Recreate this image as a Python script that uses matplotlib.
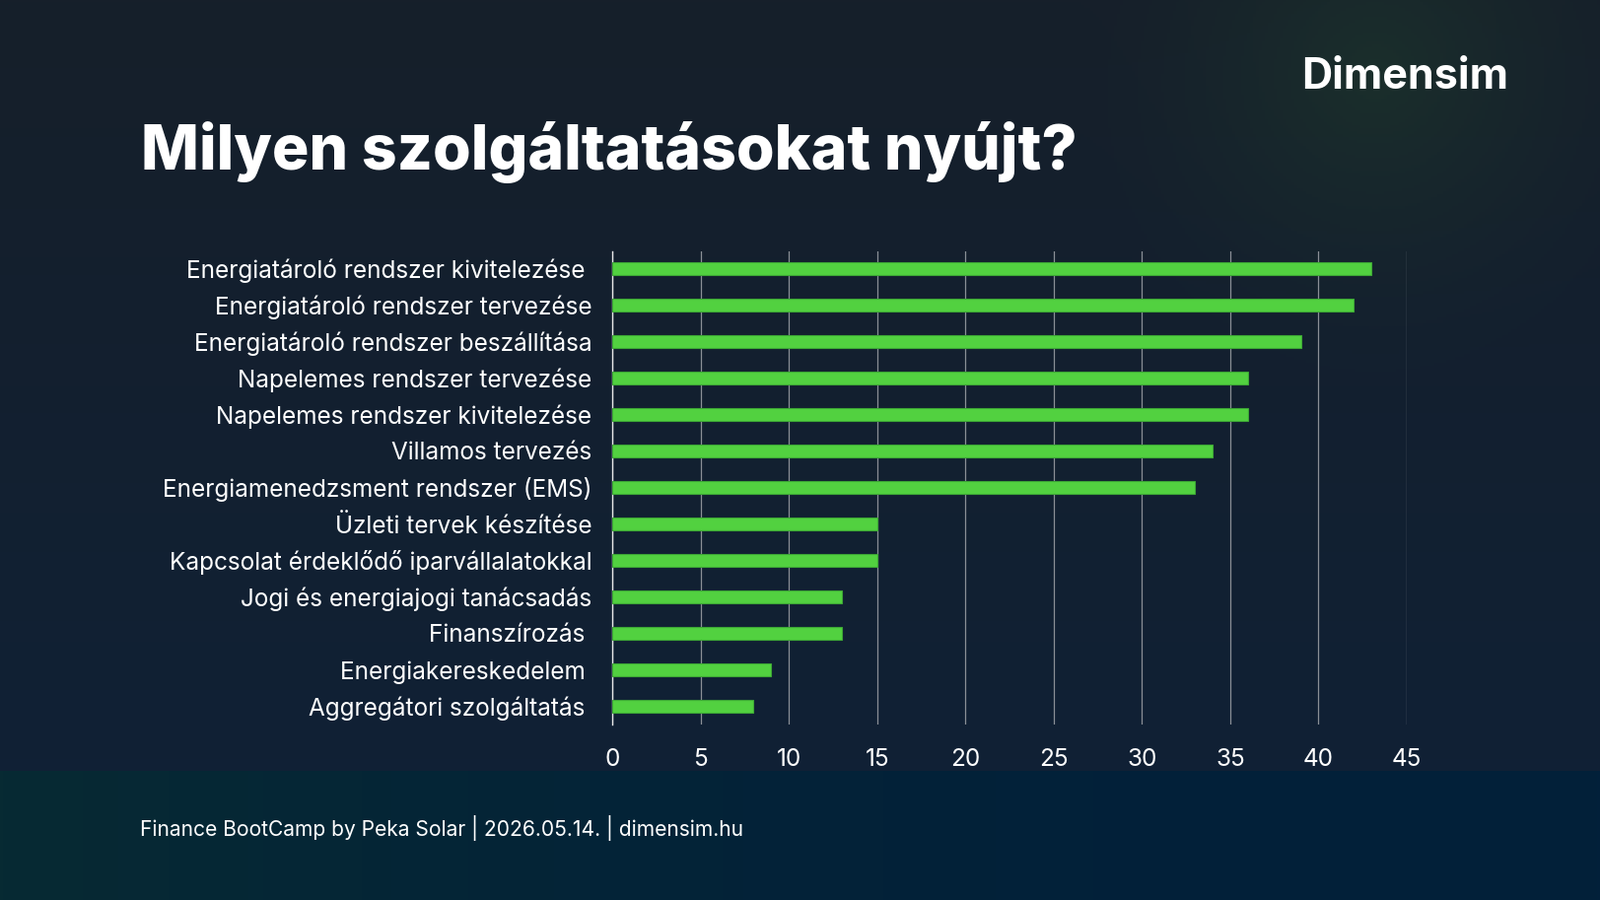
import numpy as np
import matplotlib.pyplot as plt

services = [
    'Energiatároló rendszer kivitelezése ',
    'Energiatároló rendszer tervezése',
    'Energiatároló rendszer beszállítása',
    'Napelemes rendszer tervezése',
    'Napelemes rendszer kivitelezése',
    'Villamos tervezés',
    'Energiamenedzsment rendszer (EMS)',
    'Üzleti tervek készítése',
    'Kapcsolat érdeklődő iparvállalatokkal',
    'Jogi és energiajogi tanácsadás',
    'Finanszírozás ',
    'Energiakereskedelem ',
    'Aggregátori szolgáltatás ',
]
counts = [43, 42, 39, 36, 36, 34, 33, 15, 15, 13, 13, 9, 8]
x_ticks = [0, 5, 10, 15, 20, 25, 30, 35, 40, 45]

title = 'Milyen szolgáltatásokat nyújt?'
footer = 'Finance BootCamp by Peka Solar | 2026.05.14. | dimensim.hu'
logo = 'Dimensim'

plt.rcParams['font.family'] = ['Inter', 'DejaVu Sans']

fig = plt.figure(figsize=(16.23, 9.13), dpi=100)

# background: dark navy gradient, darker band at the bottom, soft glow top right
bg = fig.add_axes([0, 0, 1, 1])
bg.set_axis_off()
h, w = 300, 540
yy, xx = np.mgrid[0:h, 0:w]
yf = yy / (h - 1)
xf = xx / (w - 1)
top = np.array([0x16, 0x1f, 0x2a]) / 255
mid = np.array([0x0f, 0x21, 0x37]) / 255
img = top[None, None, :] * (1 - yf[..., None]) + mid[None, None, :] * yf[..., None]
# glow near logo
d = np.sqrt(((xf - 0.86) * 1.8) ** 2 + ((yf - 0.08) * 1.0) ** 2)
glow = np.clip(1 - d / 0.35, 0, 1) ** 1.5
green = np.array([0x1c, 0x33, 0x2c]) / 255
img = img * (1 - glow[..., None] * 0.8) + green[None, None, :] * glow[..., None] * 0.8
# bottom band
band = yf > 782 / 913
bot_l = np.array([0x07, 0x2a, 0x33]) / 255
bot_r = np.array([0x02, 0x20, 0x3a]) / 255
bcol = bot_l[None, None, :] * (1 - xf[..., None]) ** 2 + bot_r[None, None, :] * (1 - (1 - xf[..., None]) ** 2)
img = np.where(band[..., None], bcol, img)
bg.imshow(img, aspect='auto', extent=[0, 1, 0, 1], zorder=0)
bg.set_xlim(0, 1)
bg.set_ylim(0, 1)

ax = fig.add_axes([621 / 1623, 1 - 735 / 913, 806 / 1623, 480 / 913])
ax.set_facecolor('none')
ypos = np.arange(len(services))
ax.barh(ypos, counts, height=0.37, color='#52d140', edgecolor='#3da835',
        linewidth=0.8, zorder=3)
ax.set_ylim(len(services) - 0.5, -0.47)
ax.set_xlim(0, 45)
ax.set_xticks(x_ticks)
ax.set_yticks(ypos)
ax.set_yticklabels(services)
ax.xaxis.grid(True, color='#8a8f96', linewidth=0.9, zorder=0)
ax.set_axisbelow(True)
for s in ['top', 'right', 'bottom']:
    ax.spines[s].set_visible(False)
ax.spines['left'].set_color('#e8e8e8')
ax.spines['left'].set_linewidth(1.0)
ax.tick_params(axis='both', length=0, colors='white', labelsize=17.5)
ax.tick_params(axis='y', pad=15)
ax.tick_params(axis='x', pad=17)

fig.text(143 / 1623, 1 - 155 / 913, title, color='white', fontsize=45,
         fontweight=800, va='center', ha='left')
fig.text(1530 / 1623, 1 - 79 / 913, logo, color='white', fontsize=31,
         fontweight='bold', va='center', ha='right')
fig.text(142 / 1623, 1 - 840 / 913, footer, color='white', fontsize=15.1,
         va='center', ha='left')

fig.savefig('out.png', dpi=100)
